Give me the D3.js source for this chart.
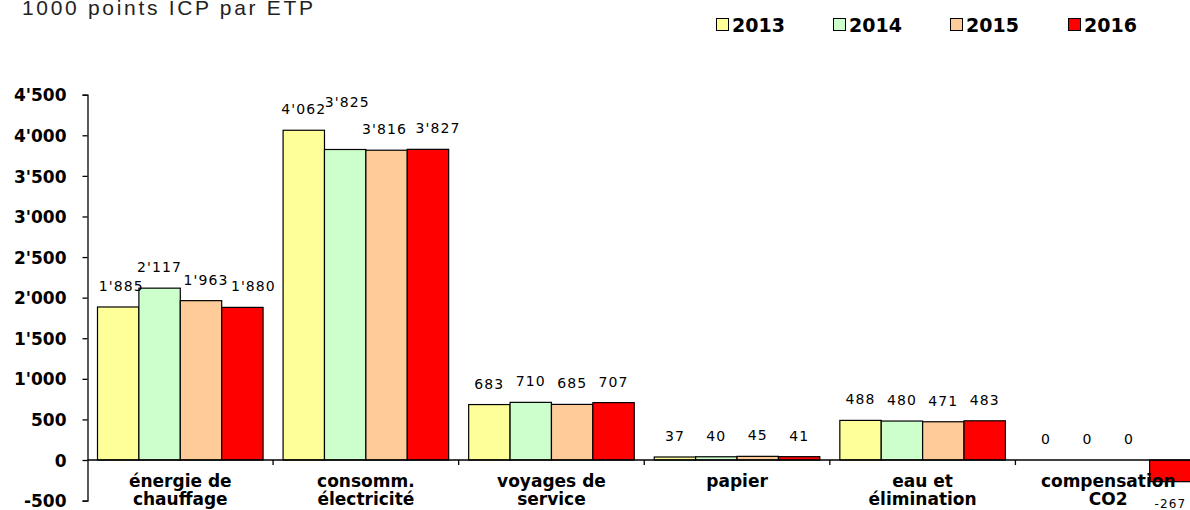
<!DOCTYPE html>
<html>
<head>
<meta charset="utf-8">
<script src="https://cdn.jsdelivr.net/npm/d3@7"></script>
<style>
  html, body { margin: 0; padding: 0; background: #fff; overflow: hidden; }
  svg { display: block; }
</style>
</head>
<body>
<svg id="chart" width="1190" height="510"></svg>
<script>
// ---- data ----
const categories = ["énergie de\nchauffage", "consomm.\nélectricité", "voyages de\nservice", "papier", "eau et\nélimination", "compensation\nCO2"];
const years = ["2013", "2014", "2015", "2016"];
const values2013 = [1885, 4062, 683, 37, 488, 0];
const values2014 = [2117, 3825, 710, 40, 480, 0];
const values2015 = [1963, 3816, 685, 45, 471, 0];
const values2016 = [1880, 3827, 707, 41, 483, -267];
const yTickValues = [-500, 0, 500, 1000, 1500, 2000, 2500, 3000, 3500, 4000, 4500];
const colors = ["#FFFF99", "#CCFFCC", "#FFCC99", "#FF0000"];
const titleText = "1000 points ICP par ETP";

// label nudges (layout only) to avoid overlapping labels, as in the original
const labelNudge = { "0-0": [3, 0], "0-2": [5, 0], "0-3": [11, 0], "1-1": [2, -26], "1-2": [-2, 0], "1-3": [10, 0] };

const seriesValues = [values2013, values2014, values2015, values2016];

const svg = d3.select("#chart");
const locale = d3.formatLocale({ decimal: ".", thousands: "'", grouping: [3], currency: ["", ""], minus: "-" });
const fmt = locale.format(",");

// ---- scales ----
const x0 = d3.scaleBand().domain(categories).range([87.5, 1201]).paddingInner(0).paddingOuter(0);
const x1 = d3.scaleBand().domain(years).range([10, x0.bandwidth() - 10]).padding(0);
const y = d3.scaleLinear().domain([-500, 4500]).range([500.6, 94.7]);

// ---- title ----
svg.append("text")
  .attr("x", 22).attr("y", 15)
  .attr("font-family", "Liberation Sans, Arial, sans-serif")
  .attr("font-size", 21)
  .attr("fill", "#222")
  .attr("textLength", 291)
  .attr("lengthAdjust", "spacing")
  .text(titleText);

// ---- legend ----
const legendX = [716, 833, 950, 1068];
const legend = svg.append("g");
years.forEach((yr, i) => {
  legend.append("rect")
    .attr("x", legendX[i] + 0.5).attr("y", 18.5)
    .attr("width", 12).attr("height", 12)
    .attr("fill", colors[i]).attr("stroke", "#000").attr("stroke-width", 1);
  legend.append("text")
    .attr("x", legendX[i] + 16).attr("y", 31.5)
    .attr("font-family", "DejaVu Sans, sans-serif")
    .attr("font-weight", "bold")
    .attr("font-size", 19)
    .attr("fill", "#000")
    .text(yr);
});

// ---- bars ----
const rows = categories.map((c, ci) => years.map((yr, si) => ({ cat: c, ci, year: yr, si, value: seriesValues[si][ci] })));
const groups = svg.append("g").selectAll("g").data(rows).join("g")
  .attr("transform", d => `translate(${x0(d[0].cat)},0)`);

groups.selectAll("rect").data(d => d).join("rect")
  .attr("x", d => x1(d.year))
  .attr("width", x1.bandwidth())
  .attr("y", d => Math.min(y(d.value), y(0)))
  .attr("height", d => Math.abs(y(d.value) - y(0)))
  .attr("fill", d => colors[d.si])
  .attr("stroke", "#000")
  .attr("stroke-width", 1.2);

// value labels
const nudge = d => labelNudge[d.ci + "-" + d.si] || [0, 0];
groups.selectAll("text.val").data(d => d).join("text")
  .attr("class", "val")
  .attr("x", d => x1(d.year) + x1.bandwidth() / 2 + nudge(d)[0])
  .attr("y", d => (d.value >= 0 ? y(d.value) - 16 : y(d.value) + 26) + nudge(d)[1])
  .attr("text-anchor", "middle")
  .attr("font-family", "DejaVu Sans, sans-serif")
  .attr("font-size", d => d.value >= 0 ? 14 : 12)
  .attr("letter-spacing", 1.1)
  .attr("fill", "#000")
  .text(d => fmt(d.value));

// ---- y axis ----
const yAxis = d3.axisLeft(y).tickValues(yTickValues).tickSize(5).tickPadding(16).tickFormat(fmt);
const gy = svg.append("g").attr("transform", "translate(87.5,0)").call(yAxis);
gy.select(".domain").attr("stroke", "#000").attr("stroke-width", 1.3);
gy.selectAll(".tick line").attr("stroke", "#000").attr("stroke-width", 1.3);
gy.selectAll(".tick text")
  .attr("font-family", "DejaVu Sans, sans-serif")
  .attr("font-weight", "bold")
  .attr("font-size", 17)
  .attr("fill", "#000")
  .attr("dy", "0.36em");

// ---- x axis (zero line with category ticks) ----
const gx = svg.append("g");
gx.append("line")
  .attr("x1", x0.range()[0]).attr("x2", x0.range()[1])
  .attr("y1", y(0)).attr("y2", y(0))
  .attr("stroke", "#000").attr("stroke-width", 1.3);
const boundaries = categories.map(c => x0(c)).concat([x0.range()[1]]);
gx.selectAll("line.tk").data(boundaries.slice(1)).join("line")
  .attr("class", "tk")
  .attr("x1", d => d).attr("x2", d => d)
  .attr("y1", y(0)).attr("y2", y(0) + 5)
  .attr("stroke", "#000").attr("stroke-width", 1.3);

// category labels
const catLabels = gx.selectAll("text.cat").data(categories).join("text")
  .attr("class", "cat")
  .attr("x", d => x0(d) + x0.bandwidth() / 2)
  .attr("y", 487)
  .attr("text-anchor", "middle")
  .attr("font-family", "DejaVu Sans, sans-serif")
  .attr("font-weight", "bold")
  .attr("font-size", 17)
  .attr("fill", "#000");
catLabels.each(function (d) {
  const lines = d.split("\n");
  const t = d3.select(this);
  lines.forEach((ln, i) => {
    t.append("tspan")
      .attr("x", x0(d) + x0.bandwidth() / 2)
      .attr("y", 487 + i * 18)
      .text(ln);
  });
});
</script>
</body>
</html>
